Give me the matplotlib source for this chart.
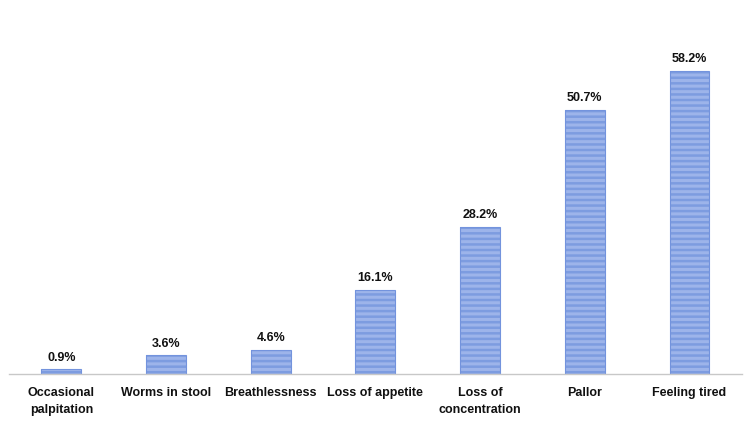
import matplotlib.pyplot as plt
import numpy as np

# symptoms and share of respondents (%)
symptoms = ["Occasional\npalpitation", "Worms in stool", "Breathlessness",
            "Loss of appetite", "Loss of\nconcentration", "Pallor", "Feeling tired"]
percent = [0.9, 3.6, 4.6, 16.1, 28.2, 50.7, 58.2]

plt.rcParams['font.family'] = ['Liberation Sans', 'DejaVu Sans']
plt.rcParams['hatch.linewidth'] = 2.2

fig = plt.figure(figsize=(7.5, 4.22), dpi=100)
ax = fig.add_axes([0.012, 0.1137, 0.977, 0.839])

x = np.arange(len(symptoms))
# striped fill
ax.bar(x, percent, width=0.38, color="#7d9ce0", edgecolor="#9db4ea",
       linewidth=0, hatch="---")
# outline
ax.bar(x, percent, width=0.38, fill=False, edgecolor="#7393dd", linewidth=0.8)

for xi, v in zip(x, percent):
    ax.text(xi, v + 1.1, f"{v}%", ha="center", va="bottom",
            fontsize=9, fontweight="bold", color="#111111")

ax.set_xlim(-0.5, 6.5)
ax.set_ylim(0, 68)
ax.set_xticks(x)
ax.set_xticklabels(symptoms, fontsize=9, fontweight="bold", color="#111111",
                   linespacing=1.6)
ax.tick_params(axis="x", length=0, pad=9)
ax.set_yticks([])
for s in ["top", "right", "left"]:
    ax.spines[s].set_visible(False)
ax.spines["bottom"].set_color("#c8c8c8")
ax.spines["bottom"].set_linewidth(1.0)

fig.savefig("out.png", dpi=100)
